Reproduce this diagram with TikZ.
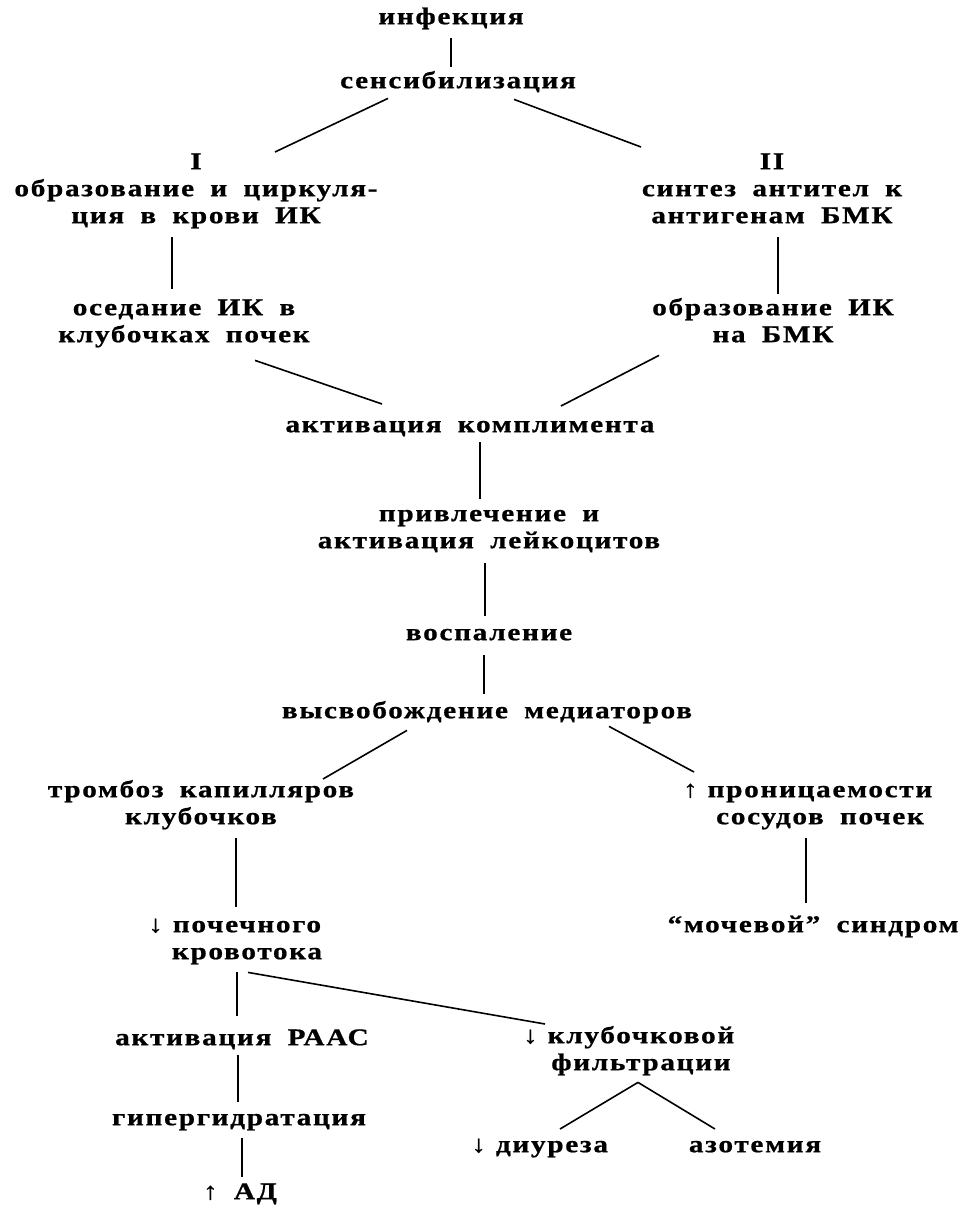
\documentclass[tikz,border=0pt]{standalone}
\usepackage{fontspec}
\setmainfont{Liberation Serif}[LetterSpace=7, WordSpace=1.8, BoldFeatures={FakeStretch=1.22, FakeBold=0.8}]
\newcommand\ft{\rule{0pt}{19pt}}
\newcommand\fb{\rule[-6pt]{0pt}{6pt}}
\newcommand\up{\llap{↑\hspace{10pt}}}
\newcommand\dn{\llap{↓\hspace{10pt}}}
\newcommand\lnk[6]{\draw[link] ([xshift=#2pt,yshift=#3pt]#1.south) -- ([xshift=#5pt,yshift=#6pt]#4.north);}
\tikzset{
  box/.style={anchor=north, inner sep=0pt, yshift=1pt, align=center, font=\fontsize{24}{27}\selectfont\bfseries},
  link/.style={line width=1.6pt},
}
\begin{document}
\begin{tikzpicture}[x=1pt,y=-1pt]
\useasboundingbox (0,0) rectangle (964,1206);
\node[box] (inf)   at (451,6)    {\ft инфекция\fb};
\node[box] (sens)  at (458,70)   {\ft сенсибилизация\fb};
\node[box] (L1)    at (196,151)  {\ft I\\образование и циркуля-\\ция в крови ИК\fb};
\node[box] (R1)    at (772,151)  {\ft II\\синтез антител к\\антигенам БМК\fb};
\node[box] (L2)    at (184,297)  {\ft оседание ИК в\\клубочках почек\fb};
\node[box] (R2)    at (773,297)  {\ft образование ИК\\на БМК\fb};
\node[box] (kompl) at (470,414)  {\ft активация комплимента\fb};
\node[box] (leuk)  at (489,503)  {\ft привлечение и\\активация лейкоцитов\fb};
\node[box] (vosp)  at (489,622)  {\ft воспаление\fb};
\node[box] (med)   at (487,700)  {\ft высвобождение медиаторов\fb};
\node[box] (tromb) at (201,779)  {\ft тромбоз капилляров\\клубочков\fb};
\node[box] (pron)  at (820,779)  {\ft\up проницаемости\\сосудов почек\fb};
\node[box] (poch)  at (247,914)  {\ft\dn почечного\\кровотока\fb};
\node[box] (moch)  at (813,914)  {\ft “мочевой” синдром\fb};
\node[box] (raas)  at (242,1027) {\ft активация РААС\fb};
\node[box] (klub)  at (641,1025) {\ft\dn клубочковой\\фильтрации\fb};
\node[box] (gip)   at (239,1107) {\ft гипергидратация\fb};
\node[box] (diur)  at (552,1134) {\ft\dn диуреза\fb};
\node[box] (azot)  at (755,1134) {\ft азотемия\fb};
\node[box] (ad)    at (240,1181) {\ft ↑ АД\fb};
\lnk{inf}{0}{-8}{sens}{-7}{2}
\lnk{sens}{-70}{-4}{L1}{79}{-2}
\lnk{sens}{56}{-5}{R1}{-131}{3}
\lnk{L1}{-24}{-8}{L2}{-12}{7}
\lnk{R1}{6}{-8}{R2}{5}{2}
\lnk{L2}{71}{-12}{kompl}{-88}{9}
\lnk{R2}{-114}{-7}{kompl}{91}{7}
\lnk{kompl}{10}{-4}{leuk}{-9}{3}
\lnk{leuk}{-4}{-9}{vosp}{-4}{5}
\lnk{vosp}{-5}{-9}{med}{-3}{5}
\lnk{med}{-80}{-6}{tromb}{122}{-1}
\lnk{med}{122}{-2}{pron}{-126}{6}
\lnk{tromb}{35}{-8}{poch}{-11}{6}
\lnk{pron}{-14}{-8}{moch}{-7}{10}
\lnk{poch}{-10}{-7}{raas}{-5}{10}
\lnk{poch}{1}{-7}{klub}{-96}{0}
\lnk{raas}{-4}{-4}{gip}{-1}{4}
\lnk{gip}{3}{-7}{ad}{2}{3}
\lnk{klub}{-3}{-6}{diur}{8}{4}
\lnk{klub}{-3}{-6}{azot}{-40}{4}
\end{tikzpicture}
\end{document}
